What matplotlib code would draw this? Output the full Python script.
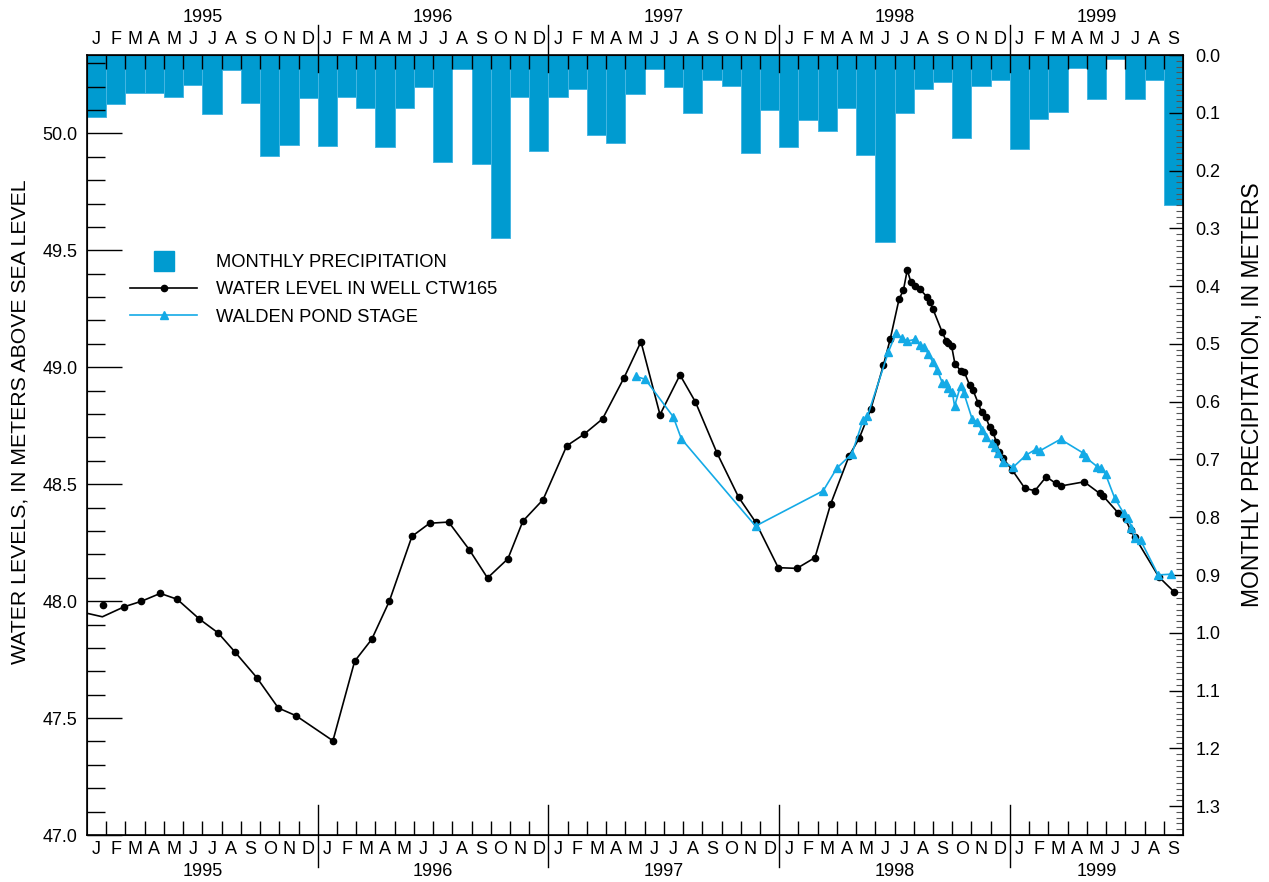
import numpy as np
import matplotlib

matplotlib.use("Agg")
import matplotlib.pyplot as plt
from matplotlib.lines import Line2D
from matplotlib.ticker import MultipleLocator, FormatStrFormatter

plt.rcParams["font.family"] = ["Liberation Sans", "DejaVu Sans"]

BLUE = "#009bd0"
POND = "#14aae6"

YEARS = ["1995", "1996", "1997", "1998", "1999"]
MONTHS = list("JFMAMJJASOND")

# monthly precipitation, meters (Jan 1995 - Sep 1999)
PRECIP = [
    0.108, 0.084, 0.065, 0.065, 0.073, 0.052, 0.102, 0.026, 0.083, 0.174, 0.156, 0.075,
    0.158, 0.073, 0.091, 0.159, 0.091, 0.055, 0.186, 0.024, 0.189, 0.316, 0.073, 0.166,
    0.072, 0.058, 0.138, 0.153, 0.068, 0.025, 0.056, 0.100, 0.044, 0.054, 0.169, 0.096,
    0.159, 0.112, 0.132, 0.091, 0.173, 0.323, 0.100, 0.059, 0.047, 0.144, 0.054, 0.043,
    0.163, 0.110, 0.099, 0.023, 0.077, 0.007, 0.077, 0.043, 0.259,
]

# well CTW165, time in months since 1 Jan 1995 (first two points carry no marker)
WELL_T = [
    0.00, 0.80, 1.94, 2.82, 3.81, 4.69, 5.85, 6.82, 7.70, 8.83, 9.95, 10.87, 12.79,
    13.92, 14.81, 15.72, 16.90, 17.82, 18.81, 19.88, 20.83, 21.89, 22.67, 23.72,
    24.95, 25.84, 26.81, 27.93, 28.81, 29.80, 30.84, 31.64, 32.76, 33.89, 34.77,
    35.95, 36.92, 37.86, 38.68, 39.64, 40.16, 40.76, 41.42, 41.77, 42.23, 42.46,
    42.66, 42.84, 43.05, 43.31, 43.71, 43.83, 44.00, 44.48, 44.69, 44.76, 44.97,
    45.14, 45.44, 45.63, 45.90, 46.08, 46.35, 46.53, 46.74, 46.95, 47.12, 47.29,
    47.43, 47.64, 48.12, 48.78, 49.30, 49.89, 50.37, 50.63, 51.86, 52.66, 52.83,
    53.62, 54.01, 54.27, 54.49, 55.74, 56.53,
]
WELL_LEVEL = [
    47.948, 47.933, 47.976, 47.999, 48.033, 48.008, 47.923, 47.864, 47.782, 47.673,
    47.543, 47.510, 47.403, 47.743, 47.837, 47.999, 48.277, 48.333, 48.338, 48.220,
    48.099, 48.181, 48.342, 48.434, 48.664, 48.713, 48.779, 48.955, 49.109, 48.797,
    48.967, 48.852, 48.634, 48.444, 48.338, 48.143, 48.140, 48.186, 48.416, 48.622,
    48.696, 48.820, 49.009, 49.119, 49.290, 49.330, 49.416, 49.366, 49.348, 49.334,
    49.299, 49.280, 49.248, 49.149, 49.112, 49.105, 49.089, 49.014, 48.985, 48.979,
    48.924, 48.902, 48.846, 48.807, 48.788, 48.743, 48.722, 48.681, 48.639, 48.611,
    48.560, 48.482, 48.472, 48.532, 48.504, 48.492, 48.510, 48.461, 48.451, 48.378,
    48.350, 48.304, 48.275, 48.104, 48.040,
]
WELL_SINGLE_T = [0.81]
WELL_SINGLE_LEVEL = [47.985]

POND_T = [
    28.55, 29.04, 30.49, 30.91, 34.77, 38.29, 39.00, 39.78, 40.36, 40.59, 41.68,
    42.09, 42.37, 42.66, 43.06, 43.32, 43.53, 43.76, 44.00, 44.22, 44.48, 44.69,
    44.79, 45.00, 45.12, 45.43, 45.61, 46.04, 46.30, 46.53, 46.74, 47.05, 47.22,
    47.39, 47.64, 48.16, 48.85, 49.34, 49.54, 50.63, 51.79, 51.93, 52.54, 52.76,
    52.97, 53.45, 53.92, 54.14, 54.32, 54.49, 54.79, 55.71, 56.36,
]
POND_LEVEL = [
    48.961, 48.948, 48.788, 48.694, 48.321, 48.472, 48.569, 48.630, 48.774, 48.791,
    49.066, 49.148, 49.124, 49.112, 49.119, 49.095, 49.088, 49.056, 49.021, 48.988,
    48.934, 48.934, 48.910, 48.895, 48.834, 48.920, 48.888, 48.777, 48.767, 48.731,
    48.703, 48.675, 48.658, 48.632, 48.596, 48.572, 48.625, 48.649, 48.642, 48.692,
    48.634, 48.615, 48.575, 48.568, 48.543, 48.440, 48.375, 48.354, 48.314, 48.268,
    48.261, 48.112, 48.115,
]


def main() -> None:
    W, H = 1269, 882
    fig = plt.figure(figsize=(W / 100, H / 100), dpi=100)
    left, right, top, bottom = 87, 1183, 55, 835
    ax = fig.add_axes([left / W, 1 - bottom / H, (right - left) / W, (bottom - top) / H])
    ax2 = ax.twinx()
    n = len(PRECIP)

    ax2.bar(np.arange(n) + 0.5, PRECIP, width=1.0, color=BLUE, edgecolor="#45b6e2", linewidth=0.7)
    ax2.set_ylim(1.35, 0.0)
    ax2.yaxis.set_major_locator(MultipleLocator(0.1))
    ax2.yaxis.set_minor_locator(MultipleLocator(0.01))
    ax2.yaxis.set_major_formatter(FormatStrFormatter("%.1f"))
    ax2.tick_params(axis="y", which="major", direction="in", length=10, width=1, pad=9, labelsize=13)
    ax2.tick_params(axis="y", which="minor", direction="in", length=5, width=0.8, color="#555555")

    ax.set_zorder(ax2.get_zorder() + 1)
    ax.patch.set_visible(False)

    ax.plot(WELL_T, WELL_LEVEL, color="black", lw=1.2, marker="o", ms=4.5,
            markevery=list(range(2, len(WELL_T))), clip_on=True)
    ax.plot(WELL_SINGLE_T, WELL_SINGLE_LEVEL, "o", color="black", ms=4.5)
    ax.plot(POND_T, POND_LEVEL, color=POND, lw=1.2, marker="^", ms=6)

    ax.set_xlim(0, n)
    ax.set_ylim(47.0, 50.335)
    ax.yaxis.set_major_locator(MultipleLocator(0.5))
    ax.yaxis.set_minor_locator(MultipleLocator(0.1))
    ax.yaxis.set_major_formatter(FormatStrFormatter("%.1f"))
    ax.tick_params(axis="y", which="major", direction="in", length=25, width=1, pad=7, labelsize=13)
    ax.tick_params(axis="y", which="minor", direction="in", length=13, width=1)

    year_starts = [12 * i for i in range(1, len(YEARS))]
    month_ticks = [m for m in range(1, n) if m not in year_starts]
    ax.set_xticks(month_ticks)
    ax.tick_params(axis="x", which="major", direction="in", length=10, width=1,
                   top=True, labelbottom=False)
    for sp in ax.spines.values():
        sp.set_linewidth(1.2)

    tr = ax.get_xaxis_transform()
    for ys in year_starts:
        ax.plot([ys, ys], [1 - 17 / 780, 1 + 30 / 780], color="black", lw=1, transform=tr, clip_on=False)
        ax.plot([ys, ys], [30 / 780, -32 / 780], color="black", lw=1, transform=tr, clip_on=False)

    for m in range(n):
        letter = MONTHS[m % 12]
        ax.text(m + 0.5, 1 + 16 / 780, letter, transform=tr, ha="center", va="center", fontsize=13)
        ax.text(m + 0.5, -14 / 780, letter, transform=tr, ha="center", va="center", fontsize=13)
    for i, yr in enumerate(YEARS):
        start, end = 12 * i, min(12 * i + 12, n)
        xc = (start + end) / 2
        ax.text(xc, 1 + 38 / 780, yr, transform=tr, ha="center", va="center", fontsize=13)
        ax.text(xc, -37 / 780, yr, transform=tr, ha="center", va="center", fontsize=13)

    fig.text(20 / W, 1 - 422 / H, "WATER LEVELS, IN METERS ABOVE SEA LEVEL", rotation=90,
             ha="center", va="center", fontsize=15.3)
    fig.text(1252 / W, 1 - 395 / H, "MONTHLY PRECIPITATION, IN METERS", rotation=90,
             ha="center", va="center", fontsize=16.5)

    handles = [
        Line2D([], [], ls="none", marker="s", ms=15, color=BLUE),
        Line2D([], [], color="black", lw=1.2, marker="o", ms=4.5),
        Line2D([], [], color=POND, lw=1.2, marker="^", ms=6),
    ]
    labels = ["MONTHLY PRECIPITATION", "WATER LEVEL IN WELL CTW165", "WALDEN POND STAGE"]
    ax.legend(handles, labels, loc="upper left", bbox_to_anchor=(43 / 1096, 1 - 199 / 780),
              frameon=False, fontsize=13.2, handlelength=3.66, handletextpad=1.04,
              labelspacing=0.56, borderpad=0, borderaxespad=0)

    fig.savefig("out.png", dpi=100)


if __name__ == "__main__":
    main()
